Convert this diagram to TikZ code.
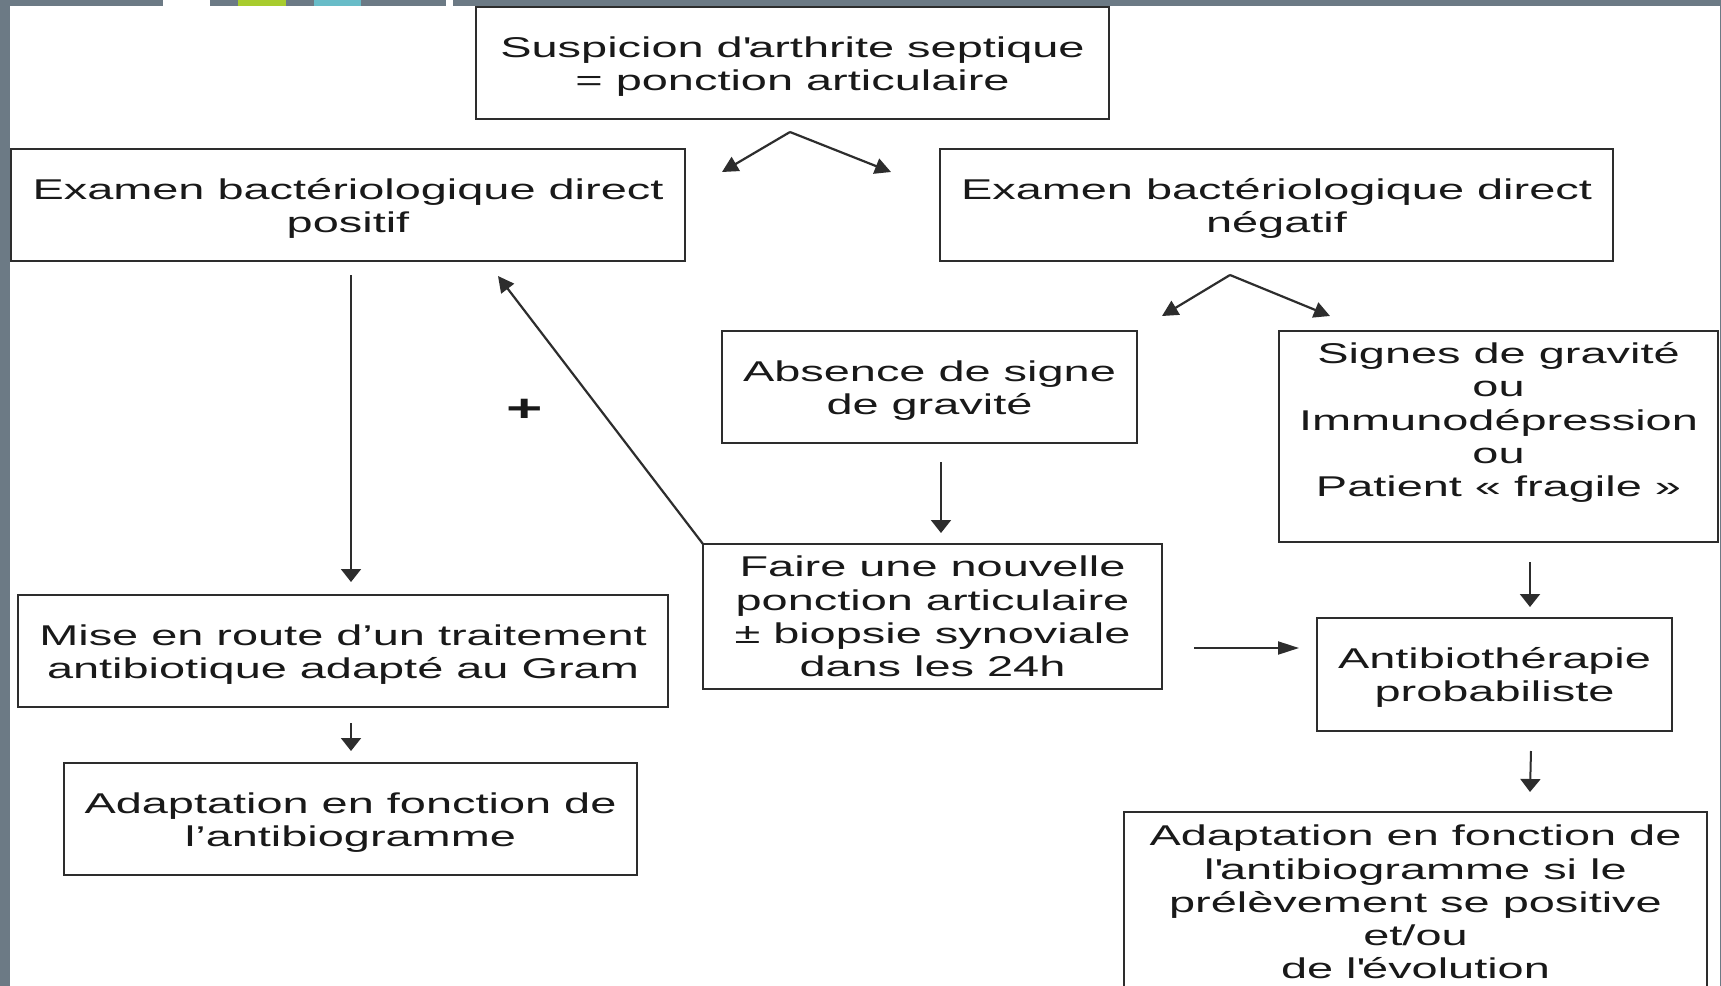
\documentclass[tikz,border=0pt]{standalone}
\usepackage{fontspec}
\setmainfont[FakeStretch=1.64]{Liberation Sans}
\usetikzlibrary{arrows.meta,calc}
\definecolor{barGray}{RGB}{108,122,133}
\definecolor{barGreen}{RGB}{168,204,46}
\definecolor{barTeal}{RGB}{104,188,200}
\definecolor{inkc}{RGB}{25,25,25}
\definecolor{linec}{RGB}{45,45,45}
\newcommand\tstrut{\rule{0pt}{13.6pt}}
\tikzset{
  box/.style={draw=linec, line width=1.1pt, rectangle, inner sep=0pt, outer sep=0pt,
    align=center, text=inkc, font=\fontsize{14.3pt}{16.6pt}\selectfont},
  txt/.style={inner sep=0pt, align=center, text=inkc, font=\fontsize{14.3pt}{16.6pt}\selectfont},
  vline/.style={draw=linec, line width=1pt, -{Triangle[length=6.5pt,width=10pt]}},
  hline/.style={draw=linec, line width=1pt, -{Triangle[length=10.5pt,width=6.5pt]}},
  dline/.style={draw=linec, line width=1.1pt, -{Triangle[length=8pt,width=8pt]}}
}
\begin{document}
\begin{tikzpicture}[x=0.5pt, y=-0.5pt]
\useasboundingbox (0,0) rectangle (1721,986);
\clip (0,0) rectangle (1721,986);
\fill[white] (0,0) rectangle (1721,986);
% frame bars
\fill[barGray] (0,0) rectangle (1721,6);
\fill[white] (163,0) rectangle (210,6);
\fill[barGreen] (238,0) rectangle (286,6);
\fill[barTeal] (314,0) rectangle (361,6);
\fill[white] (446,0) rectangle (453,6);
\fill[barGray] (0,0) rectangle (10,986);
\fill[barGray] (1719.5,0) rectangle (1721,986);

% boxes
\node[box, minimum width=316.5pt, minimum height=56pt] (top) at (792.5,63)
  {\tstrut Suspicion d\textquotesingle arthrite septique\\= ponction articulaire};
\node[box, minimum width=337pt, minimum height=56pt] (pos) at (348,205)
  {\tstrut Examen bactériologique direct\\positif};
\node[box, minimum width=336.5pt, minimum height=56pt] (neg) at (1276.5,205)
  {\tstrut Examen bactériologique direct\\négatif};
\node[box, minimum width=207.5pt, minimum height=56pt] (abs) at (929.5,387)
  {\tstrut Absence de signe\\de gravité};
\node[box, minimum width=219.5pt, minimum height=105.5pt] (sig) at (1498.5,436.5) {};
\node[txt] (sigt) at (1498.5,422.5)
  {Signes de gravité\\ou\\Immunodépression\\ou\\Patient « fragile »};
\node[box, minimum width=229.5pt, minimum height=72.5pt] (faire) at (932.5,616.5)
  {Faire une nouvelle\\ponction articulaire\\± biopsie synoviale\\dans les 24h};
\node[box, minimum width=325pt, minimum height=56pt] (mise) at (343,651)
  {\tstrut Mise en route d’un traitement\\antibiotique adapté au Gram};
\node[box, minimum width=286.5pt, minimum height=56pt] (adl) at (350.5,819)
  {\tstrut Adaptation en fonction de\\l’antibiogramme};
\node[box, minimum width=177.5pt, minimum height=56.5pt] (atb) at (1494.5,674.5)
  {\tstrut Antibiothérapie\\probabiliste};
\node[box, minimum width=291.5pt, minimum height=100pt, anchor=north] (adr) at (1415.5,812) {};
\node[txt] (adrt) at (1415.5,902)
  {Adaptation en fonction de\\l\textquotesingle antibiogramme si le\\prélèvement se positive\\et/ou\\de l\textquotesingle évolution};

% split arrows from top box
\coordinate (apex1) at ([xshift=-1.25pt,yshift=-6.5pt]top.south);
\draw[dline] (apex1) -- ([xshift=18.5pt,yshift=-11.5pt]pos.north east);
\draw[dline] (apex1) -- ([xshift=-24.5pt,yshift=-11.5pt]neg.north west);
% split arrows from negatif box
\coordinate (apex2) at ([xshift=-23.25pt,yshift=-7pt]neg.south);
\draw[dline] (apex2) -- ([xshift=12.5pt,yshift=7.5pt]abs.north east);
\draw[dline] (apex2) -- ([xshift=25.5pt,yshift=7.5pt]sig.north west);
% vertical arrows
\draw[vline] ([xshift=1.5pt,yshift=-7pt]pos.south) -- ([xshift=4pt,yshift=6.5pt]mise.north);
\draw[vline] ([xshift=4pt,yshift=-8pt]mise.south) -- ([xshift=0.25pt,yshift=6pt]adl.north);
\draw[vline] ([xshift=5.75pt,yshift=-9.5pt]abs.south) -- ([xshift=4.25pt,yshift=5.5pt]faire.north);
\draw[vline] ([xshift=15.75pt,yshift=-10pt]sig.south) -- ([xshift=17.75pt,yshift=5.5pt]atb.north);
\draw[vline] ([xshift=18.25pt,yshift=-10pt]atb.south) -- ([xshift=57.25pt,yshift=10pt]adr.north);
% horizontal arrow
\draw[hline] ([xshift=16pt,yshift=-15.75pt]faire.east) -- ([xshift=-9pt,yshift=13.25pt]atb.west);
% diagonal back arrow
\draw[dline] (faire.north west) -- ([xshift=75pt,yshift=-7.5pt]pos.south);
\node[txt, font=\fontsize{19pt}{19pt}\selectfont\bfseries] (plus) at (525,410) {+};
\end{tikzpicture}
\end{document}
